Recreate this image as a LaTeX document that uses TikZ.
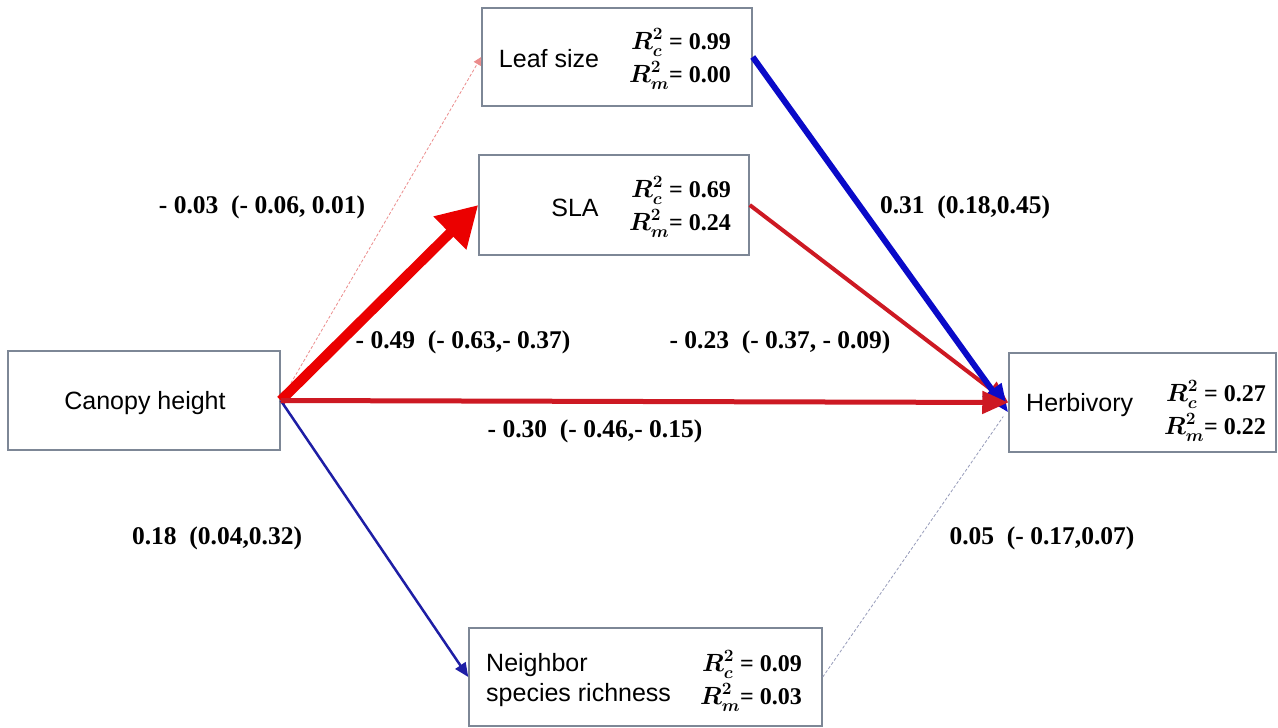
\documentclass[tikz,border=0pt]{standalone}
\usepackage{amsmath}
\usepackage{fontspec}
\setmainfont{Liberation Serif}
\setsansfont{Liberation Sans}
\usetikzlibrary{arrows.meta,calc}
\definecolor{boxc}{RGB}{125,135,150}
\definecolor{sred}{RGB}{235,0,0}
\definecolor{dred}{RGB}{205,25,35}
\definecolor{sblue}{RGB}{10,10,200}
\definecolor{nblue}{RGB}{30,30,165}
\definecolor{lred}{RGB}{235,140,140}
\definecolor{lgray}{RGB}{150,155,185}
\newcommand{\rsqv}[2]{{\fontsize{24}{28}\selectfont$\boldsymbol{R^{2}_{#1}}$}#2}
\begin{document}
\begin{tikzpicture}[x=1pt,y=-1pt,
  box/.style={draw=boxc, line width=1.5pt, fill=white, inner sep=0pt},
  lbl/.style={font=\sffamily\fontsize{25}{30}\selectfont, inner sep=0pt},
  num/.style={font=\bfseries\fontsize{25.5}{28}\selectfont, inner sep=0pt},
  rsq/.style={font=\bfseries\fontsize{24}{28}\selectfont, anchor=base east, inner sep=0pt}]
\useasboundingbox (0,0) rectangle (1278,728);
% boxes
\node[box, minimum width=270pt, minimum height=98pt] (leaf) at (617,57) {};
\node[box, minimum width=270pt, minimum height=100pt] (sla) at (614,205) {};
\node[box, minimum width=272pt, minimum height=99pt] (can) at (144,400.5) {};
\node[box, minimum width=267pt, minimum height=99pt] (herb) at (1142.5,402.5) {};
\node[box, minimum width=353pt, minimum height=98pt] (nei) at (645.5,677) {};
% box texts
\node[lbl] (leaft) at (549,59) {Leaf size};
\node[rsq] (leafr1) at (731,49) {\rsqv{c}{ = 0.99}};
\node[rsq] (leafr2) at (731,82) {\rsqv{m}{= 0.00}};
\node[lbl] (slat) at (575,208) {SLA};
\node[rsq] (slar1) at (731,197) {\rsqv{c}{ = 0.69}};
\node[rsq] (slar2) at (731,230) {\rsqv{m}{= 0.24}};
\node[lbl] (cant) at (145,403) {Canopy height};
\node[lbl, anchor=west] (herbt) at (1026,405) {Herbivory};
\node[rsq] (herbr1) at (1266,401) {\rsqv{c}{ = 0.27}};
\node[rsq] (herbr2) at (1266,434) {\rsqv{m}{= 0.22}};
\node[lbl, anchor=west, align=left] (neit) at (486,680) {Neighbor\\species richness};
\node[rsq] (neir1) at (802,671) {\rsqv{c}{ = 0.09}};
\node[rsq] (neir2) at (802,704) {\rsqv{m}{= 0.03}};
% connectors
\draw[lred, line width=0.8pt, dash pattern=on 3pt off 2pt, -{Triangle[length=8pt,width=8pt]}] (can.east) -- (leaf.west);
\draw[sred, line width=10pt, -{Triangle[length=40pt,width=44pt]}] (can.east) -- (sla.west);
\draw[nblue, line width=2.5pt, -{Triangle[length=14pt,width=12pt]}] (can.east) -- (nei.west);
\draw[dred, line width=4pt, -{Triangle[length=22pt,width=18pt]}] (sla.east) -- (herb.west);
\draw[sblue, line width=6pt, -{Triangle[length=28pt,width=22pt]}] (leaf.east) -- ($(herb.west)+(0,10)$);
\draw[dred, line width=5pt, -{Triangle[length=26pt,width=22pt]}] (can.east) -- (herb.west);
\draw[lgray, line width=0.8pt, dash pattern=on 3pt off 2pt] (nei.east) -- ($(herb.west)+(-5,14)$);
% path labels
\node[num] (l1) at (262,207) {- 0.03~~(- 0.06, 0.01)};
\node[num] (l2) at (965,207) {0.31~~(0.18,0.45)};
\node[num] (l3) at (463,342) {- 0.49~~(- 0.63,- 0.37)};
\node[num] (l4) at (780,342) {- 0.23~~(- 0.37, - 0.09)};
\node[num] (l5) at (595,431) {- 0.30~~(- 0.46,- 0.15)};
\node[num] (l6) at (217,538) {0.18~~(0.04,0.32)};
\node[num] (l7) at (1042,538) {0.05~~(- 0.17,0.07)};
\end{tikzpicture}
\end{document}
